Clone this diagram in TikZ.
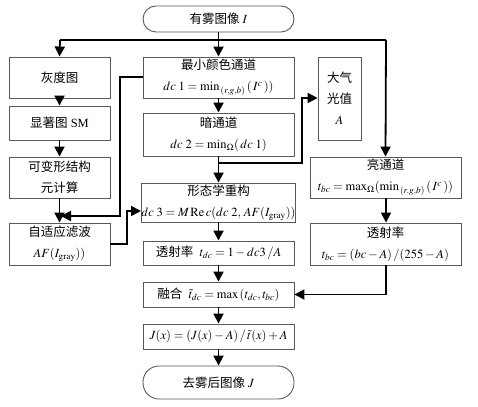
\documentclass[tikz,border=0pt]{standalone}
\usepackage{mathptmx}
\usepackage{fontspec}
\setmainfont{Liberation Serif}
\newfontfamily\cjk{Noto Sans CJK SC}
\usetikzlibrary{arrows.meta,calc}
\begin{document}
\begin{tikzpicture}[x=1pt,y=-1pt,
  box/.style={draw=black!65,line width=0.9pt,fill=white,inner sep=0pt,align=center,
    font=\fontsize{12.5}{21}\selectfont},
  term/.style={box,rounded corners=13pt},
  conn/.style={line width=1.8pt,-{Triangle[width=10pt,length=10pt]}},
  line/.style={line width=1.8pt},
  tip/.style={-{Triangle[width=10pt,length=10pt]}}]
\useasboundingbox (0,0) rectangle (478,406);
% boxes
\node[term,minimum width=151,minimum height=26] (start) at (218.5,19) {{\cjk 有雾图像} $I$};
\node[box,minimum width=101,minimum height=41] (gray) at (59.5,77.5) {\cjk 灰度图};
\node[box,minimum width=151,minimum height=41] (minc) at (218.5,77.5) {{\cjk 最小颜色通道}\\$dc\;1=\min_{\,(r,g,b)}\,(\,I^{c}\,))$};
\node[box,minimum width=43,minimum height=83] (atm) at (339.5,98.5) {{\cjk 大气}\\{\cjk 光值}\\$A$};
\node[box,minimum width=101,minimum height=34] (sal) at (59.5,123) {{\cjk 显著图} SM};
\node[box,minimum width=151,minimum height=43] (dark) at (218.5,134.5) {{\cjk 暗通道}\\$dc\;2=\min_{\Omega}(\,dc\;1)$};
\node[box,minimum width=101,minimum height=41] (def) at (59.5,177.5) {{\cjk 可变形结构}\\{\cjk 元计算}};
\node[box,minimum width=151,minimum height=41] (bright) at (385.5,177.5) {{\cjk 亮通道}\\$t_{bc}=\max_{\Omega}(\min_{\,(r,g,b)}\,(\,I^{c}\,))$};
\node[box,minimum width=151,minimum height=39] (morph) at (218.5,202.5) {{\cjk 形态学重构}\\$dc\;3=M\,\mathrm{Re}\,c(dc\;2,\,AF(I_{\mathrm{gray}}))$};
\node[box,minimum width=101,minimum height=42] (adapt) at (59.5,244) {{\cjk 自适应滤波}\\$AF(I_{\mathrm{gray}}))$};
\node[box,minimum width=151,minimum height=24] (tdc) at (218.5,253) {{\cjk 透射率}\ \ $t_{dc}=1-dc3\,/A$};
\node[box,minimum width=151,minimum height=42] (tbc) at (385.5,244) {{\cjk 透射率}\\$t_{bc}=(bc-A)\,/(255-A)$};
\node[box,minimum width=151,minimum height=25] (fuse) at (218.5,294.5) {{\cjk 融合}\ \ $\tilde{t}_{dc}=\max\,(t_{dc},t_{bc})$};
\node[box,minimum width=151,minimum height=25] (jx) at (218.5,336.5) {$J(x)=(J(x)-A)\,/\,\tilde{t}(x)+A$};
\node[term,minimum width=151,minimum height=33,rounded corners=16pt] (end) at (218.5,382.5) {{\cjk 去雾后图像} $J$};
% coordinates
\coordinate (hl) at (60,40);
\coordinate (hr) at (386,40);
\coordinate (m1) at (120,77);
\coordinate (m2) at (120,216);
\coordinate (m3) at (61,216);
\coordinate (d1) at (218.5,163);
\coordinate (d2) at (302,163);
\coordinate (d3) at (302,98);
\coordinate (a1) at (127,244);
\coordinate (a2) at (127,211);
\coordinate (t1) at (386,294.5);
% connectors
\draw[line] (hl) -- (hr);
\draw[conn] (hl) -- (gray.north);
\draw[conn] (start.south) -- (minc.north);
\draw[conn] (hr) -- (bright.north);
\draw[conn] (gray) -- (sal);
\draw[conn] (sal) -- (def);
\draw[conn] (def) -- (adapt);
\draw[line,tip] (minc.west |- m1) -- (m1) -- (m2) -- (m3);
\draw[conn] (minc) -- (dark);
\draw[line] (dark.south) -- (d1);
\draw[line,tip] (d1) -- (d2) -- (d3) -- (atm.west |- d3);
\draw[conn] (d1) -- (morph.north);
\draw[line,tip] (adapt.east |- a1) -- (a1) -- (a2) -- (morph.west |- a2);
\draw[conn] (morph) -- (tdc);
\draw[conn] (tdc) -- (fuse);
\draw[conn] (fuse) -- (jx);
\draw[conn] (jx) -- (end);
\draw[conn] (bright.south -| hr) -- (tbc.north -| hr);
\draw[line,tip] (tbc.south -| t1) -- (t1) -- (fuse.east);
\end{tikzpicture}
\end{document}
